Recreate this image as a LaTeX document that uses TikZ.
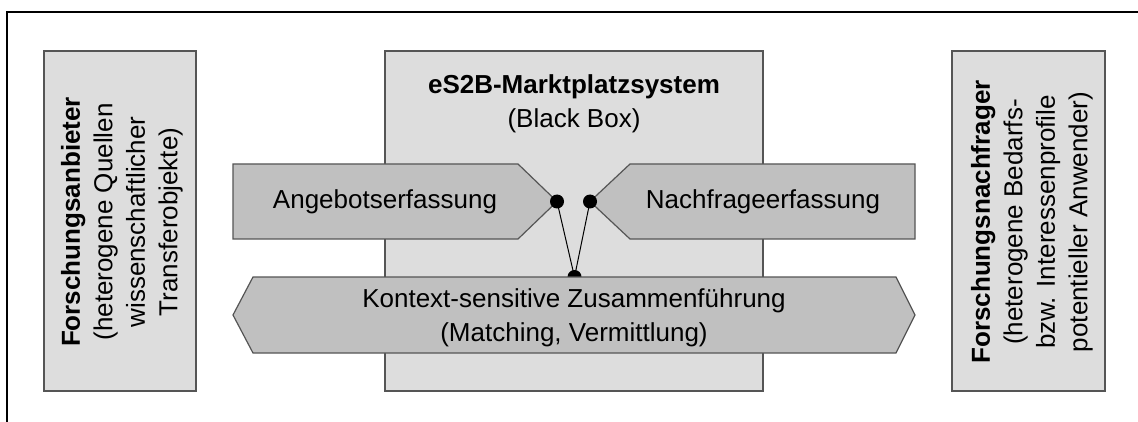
\documentclass[tikz,border=0pt]{standalone}
\usepackage{fontspec}
\setmainfont{Liberation Sans}
\definecolor{panelgray}{RGB}{221,221,221}
\definecolor{shapegray}{RGB}{192,192,192}
\definecolor{edgegray}{RGB}{85,85,85}
\begin{document}
\begin{tikzpicture}[x=1pt,y=-1pt,
  panel/.style={draw=edgegray,fill=panelgray,line width=1.2pt,inner sep=0pt},
  flag/.style={draw=edgegray,fill=shapegray,line width=1.2pt},
  txt/.style={font=\fontsize{26}{34}\selectfont,align=center,inner sep=0pt},
  vtxt/.style={font=\fontsize{26}{32.5}\selectfont,align=center,inner sep=0pt,rotate=90},
  joint/.style={circle,fill=black,inner sep=0pt,minimum size=14pt},
  link/.style={line width=1pt}]
\useasboundingbox (0,0) rectangle (1138,422);
% outer frame (top and left edges)
\draw[line width=1.5pt] (1138,12) -- (7,12) -- (7,422);

% side panels and market place system
\node[panel,minimum width=152pt,minimum height=340pt] (anbieter) at (120,221) {};
\node[panel,minimum width=153pt,minimum height=340pt] (nachfrager) at (1028.5,221) {};
\node[panel,minimum width=378pt,minimum height=340pt] (system) at (574,221) {};

% capture components
\draw[flag] (233,164) -- (518,164) -- (557,201.5) -- (518,239) -- (233,239) -- cycle;
\draw[flag] (915,164) -- (630,164) -- (590,201.5) -- (630,239) -- (915,239) -- cycle;

% joints and links
\node[joint] (lj) at (557,201.5) {};
\node[joint] (rj) at (590,201.5) {};
\node[joint] (mj) at (574.5,277) {};
\draw[link] (lj.center) -- (mj.center);
\draw[link] (rj.center) -- (mj.center);

% matching component
\draw[flag] (233,315) -- (253,277) -- (896,277) -- (915,315) -- (896,353) -- (253,353) -- cycle;

% labels
\node[txt] (title) at (574,104) {\textbf{eS2B-Marktplatzsystem}\\(Black Box)};
\node[txt] (angebot) at (385,202) {Angebotserfassung};
\node[txt] (nachfrage) at (763,202) {Nachfrageerfassung};
\node[txt] (matching) at (574,317.5) {Kontext-sensitive Zusammenführung\\(Matching, Vermittlung)};
\node[vtxt] (anbietertext) at (122,222) {\textbf{Forschungsanbieter}\\(heterogene Quellen\\wissenschaftlicher\\Transferobjekte)};
\node[vtxt] (nachfragertext) at (1032,222) {\textbf{Forschungsnachfrager}\\(heterogene Bedarfs-\\bzw. Interessenprofile\\potentieller Anwender)};
\end{tikzpicture}
\end{document}
